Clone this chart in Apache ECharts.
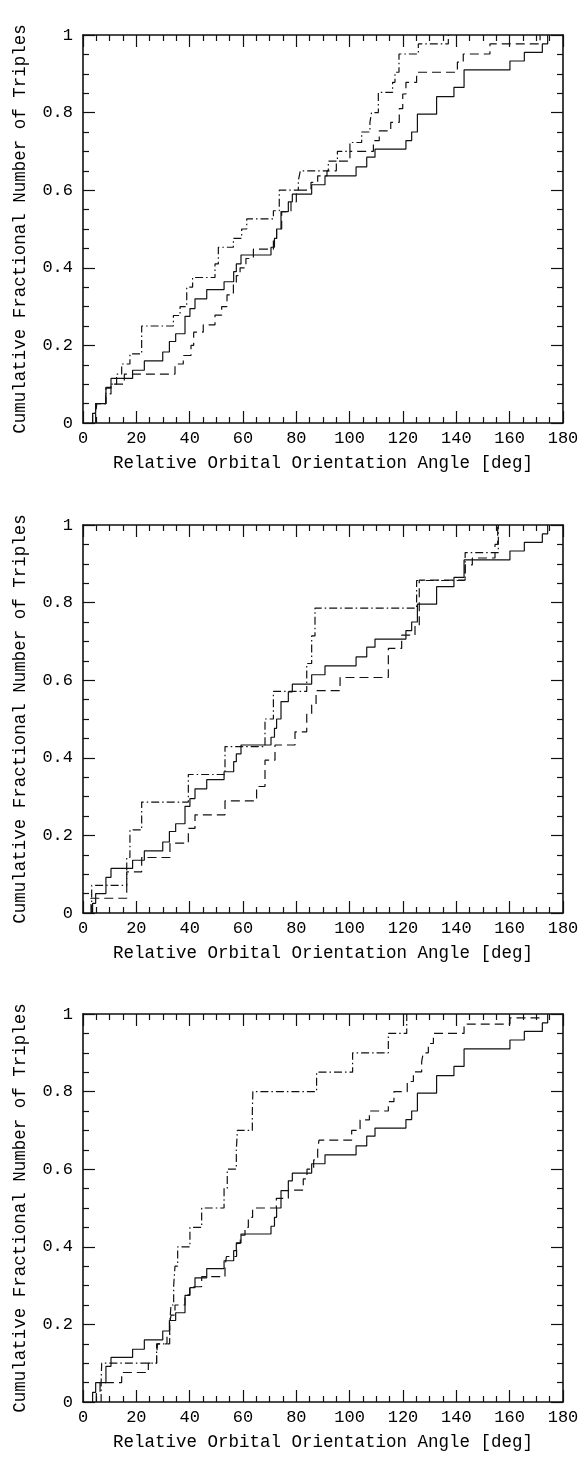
<!DOCTYPE html>
<html>
<head>
<meta charset="utf-8">
<script src="https://cdn.jsdelivr.net/npm/echarts@6/dist/echarts.min.js"></script>
<style>
html,body{margin:0;padding:0;background:#fff;}
#chart{width:585px;height:1458px;}
</style>
</head>
<body>
<div id="chart"></div>
<script>
// ---- axis settings / labels ----
const xTitle = 'Relative Orbital Orientation Angle [deg]';
const yTitle = 'Cumulative Fractional Number of Triples';
const xMin = 0, xMax = 180, xStep = 20;
const yMin = 0, yMax = 1, yStep = 0.2;

// ---- solid line (same sample in all three panels) ----
const solidX = [3.6, 3.6, 4.75, 8.6, 10.5, 18.6, 23, 29.9, 32.4, 34.75, 38.25, 40.1, 42, 46.4, 52.9, 56.5, 57.5, 59.25, 70.5, 71.8, 72.6, 74.25, 77, 78.5, 85.75, 90.75, 102.4, 106.4, 109.5, 121.1, 123.25, 125.4, 132.6, 139.1, 142.9, 160.1, 165.5, 172.25, 174.25];
const solidY = [0, 0.025, 0.05, 0.092, 0.115, 0.136, 0.16, 0.183, 0.21, 0.23, 0.275, 0.295, 0.32, 0.344, 0.364, 0.39, 0.41, 0.433, 0.453, 0.476, 0.5, 0.545, 0.57, 0.59, 0.614, 0.637, 0.66, 0.685, 0.706, 0.728, 0.75, 0.796, 0.841, 0.865, 0.91, 0.933, 0.955, 0.977, 1.0];

// ---- panel 1 ----
const p1DashX = [4.75, 4.75, 5.2, 8.5, 10.5, 15.5, 34.5, 37.6, 40.5, 41.5, 45.1, 49.5, 52, 54, 56.4, 57.5, 58.9, 61.1, 63.9, 71.4, 72.6, 74.5, 78, 80, 85.5, 88, 91.5, 95, 100.1, 108.9, 111.1, 115.4, 118.6, 119.9, 121.1, 125.1, 140.4, 142.6, 152.6, 171.4];
const p1DashY = [0, 0.025, 0.05, 0.075, 0.1, 0.126, 0.152, 0.174, 0.2, 0.234, 0.253, 0.278, 0.3, 0.33, 0.36, 0.38, 0.4, 0.424, 0.448, 0.474, 0.5, 0.545, 0.57, 0.6, 0.62, 0.637, 0.65, 0.675, 0.7, 0.728, 0.753, 0.775, 0.81, 0.848, 0.878, 0.904, 0.93, 0.951, 0.977, 1.0];
const p1DdX = [3.6, 3.6, 4.75, 8.6, 10.5, 12.6, 14.5, 17.6, 22, 33.9, 36.4, 38.9, 41.1, 49.5, 50.75, 56.4, 59.5, 61.4, 71.4, 73.6, 80.75, 81.5, 92, 95.4, 100.1, 104.5, 107.6, 108.2, 110.75, 116.1, 117, 118.5, 125.75, 137];
const p1DdY = [0, 0.025, 0.05, 0.09, 0.1, 0.126, 0.152, 0.178, 0.25, 0.277, 0.3, 0.35, 0.375, 0.41, 0.453, 0.476, 0.5, 0.526, 0.547, 0.6, 0.625, 0.65, 0.675, 0.7, 0.723, 0.75, 0.775, 0.8, 0.852, 0.878, 0.904, 0.951, 0.977, 1.0];

// ---- panel 2 ----
const p2DashX = [3, 3, 16.4, 22, 32.6, 39.5, 42, 53.25, 65.1, 68.25, 72, 79.5, 83.9, 85.75, 87.4, 96.4, 114.5, 119.5, 124.5, 126.1, 143.3, 146, 154.5, 155.5];
const p2DashY = [0, 0.038, 0.106, 0.143, 0.18, 0.218, 0.253, 0.289, 0.326, 0.394, 0.433, 0.467, 0.512, 0.536, 0.573, 0.607, 0.682, 0.716, 0.74, 0.858, 0.897, 0.915, 0.95, 1.0];
const p2DdX = [3.25, 3.25, 16.4, 17.6, 22, 39.5, 53.25, 68.25, 71.4, 83.9, 85.75, 87, 125.1, 143.3, 155.75];
const p2DdY = [0, 0.071, 0.143, 0.214, 0.286, 0.357, 0.429, 0.5, 0.571, 0.643, 0.714, 0.786, 0.857, 0.929, 1.0];

// ---- panel 3 ----
const p3DashX = [5, 5, 6.4, 14.5, 24.5, 27.6, 28, 31.5, 32.5, 33, 34.5, 38.25, 40, 44.5, 53.25, 53.8, 57.6, 59, 60.75, 62, 63.6, 72.5, 77, 82.6, 84, 86.5, 88, 88.5, 100.75, 103.9, 107.4, 114.5, 116.6, 121.6, 123.9, 127, 127.6, 129.5, 131.4, 142.9, 160.1, 171.4];
const p3DashY = [0, 0.025, 0.05, 0.076, 0.1, 0.125, 0.15, 0.175, 0.2, 0.224, 0.25, 0.276, 0.297, 0.323, 0.35, 0.375, 0.409, 0.43, 0.45, 0.476, 0.5, 0.525, 0.546, 0.575, 0.6, 0.624, 0.65, 0.675, 0.7, 0.727, 0.75, 0.774, 0.8, 0.826, 0.851, 0.877, 0.9, 0.924, 0.95, 0.974, 0.99, 1.0];
const p3DdX = [6.8, 6.8, 7, 27.6, 32.5, 33, 34, 34.5, 35.5, 40.1, 44.5, 52.9, 54.1, 57.5, 57.9, 63.5, 63.7, 87.6, 101.1, 114.5, 121.4];
const p3DdY = [0, 0.05, 0.1, 0.15, 0.2, 0.25, 0.3, 0.35, 0.4, 0.45, 0.5, 0.55, 0.6, 0.65, 0.7, 0.75, 0.8, 0.85, 0.9, 0.95, 1.0];

const panels = [
  {solid: [solidX, solidY], dash: [p1DashX, p1DashY], dd: [p1DdX, p1DdY]},
  {solid: [solidX, solidY], dash: [p2DashX, p2DashY], dd: [p2DdX, p2DdY]},
  {solid: [solidX, solidY], dash: [p3DashX, p3DashY], dd: [p3DdX, p3DdY]}
];

const gridTops = [35, 525, 1014];
const FONT = 'Liberation Mono';
const INK = '#111';

function zip(a) { return a[0].map((x, i) => [x, a[1][i]]); }

function axisBase(extra) {
  return Object.assign({
    type: 'value',
    axisLine: {show: true, onZero: false, lineStyle: {color: INK, width: 1.6}},
    axisTick: {show: true, inside: true, length: 12, lineStyle: {color: INK, width: 1.2}},
    minorTick: {show: true, splitNumber: 4, length: 6, lineStyle: {color: INK, width: 1.2}},
    splitLine: {show: false},
    minorSplitLine: {show: false}
  }, extra);
}

const grid = [], xAxis = [], yAxis = [], series = [];
gridTops.forEach((top, g) => {
  grid.push({left: 83, top: top, width: 480, height: 388});
  xAxis.push(axisBase({
    gridIndex: g, position: 'bottom', min: xMin, max: xMax, interval: xStep,
    axisLabel: {show: true, margin: 7, color: '#000', fontFamily: FONT, fontSize: 17},
    name: xTitle, nameLocation: 'middle', nameGap: 31,
    nameTextStyle: {color: '#000', fontFamily: FONT, fontSize: 17.5}
  }));
  xAxis.push(axisBase({
    gridIndex: g, position: 'top', min: xMin, max: xMax, interval: xStep,
    axisLabel: {show: false}
  }));
  yAxis.push(axisBase({
    gridIndex: g, position: 'left', min: yMin, max: yMax, interval: yStep,
    axisLabel: {show: true, margin: 10, color: '#000', fontFamily: FONT, fontSize: 17},
    name: yTitle, nameLocation: 'middle', nameGap: 54, nameRotate: 90,
    nameTextStyle: {color: '#000', fontFamily: FONT, fontSize: 17.5}
  }));
  yAxis.push(axisBase({
    gridIndex: g, position: 'right', min: yMin, max: yMax, interval: yStep,
    axisLabel: {show: false}
  }));
  const p = panels[g];
  const styles = [
    ['solid', p.solid],
    [[9, 5], p.dash],
    [[8, 3, 1.5, 3], p.dd]
  ];
  styles.forEach(([type, d]) => {
    series.push({
      type: 'line', step: 'end', xAxisIndex: g * 2, yAxisIndex: g * 2,
      data: zip(d), showSymbol: false, symbol: 'none', animation: false,
      lineStyle: {color: INK, width: 1.2, type: type}
    });
  });
});

const chart = echarts.init(document.getElementById('chart'), null, {renderer: 'canvas'});
chart.setOption({backgroundColor: '#fff', animation: false, grid, xAxis, yAxis, series});
</script>
</body>
</html>
